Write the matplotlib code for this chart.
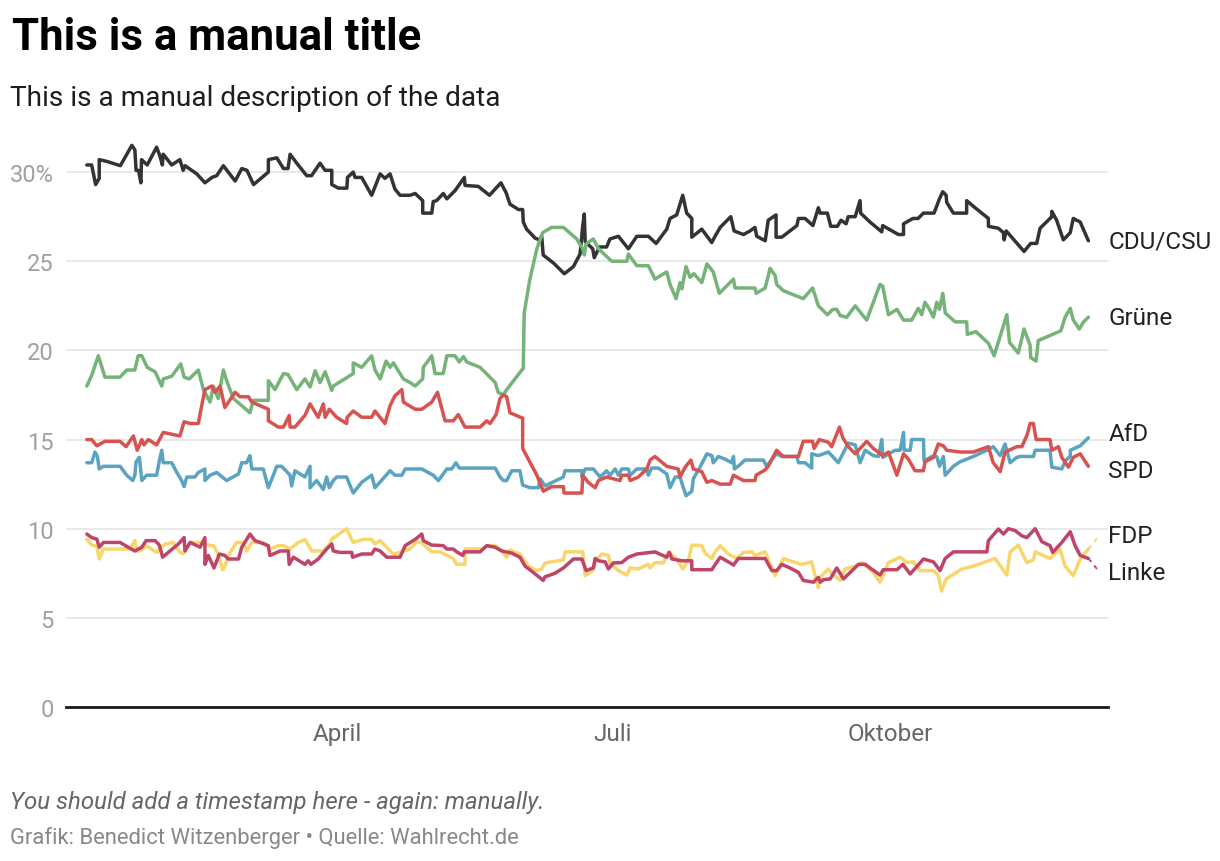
# -*- coding: utf-8 -*-

import matplotlib
matplotlib.use("Agg")
import matplotlib.pyplot as plt
import numpy as np
import pandas as pd

# plotting parameters
plt.rcParams["font.family"] = ["Roboto", "DejaVu Sans"]
plt.rcParams["figure.dpi"] = 100

START = pd.Timestamp("2019-01-01")

# poll data: days since 1 Jan 2019, share in percent
cdu_days = [6.9, 8.5, 9.8, 11, 11, 13.5, 18, 21.8, 22.8, 23.2, 24, 24.8, 25, 26.9, 30, 31.1, 31.9,
            32.2, 35, 37.7, 38.8, 39.4, 43.3, 46, 48.3, 49.9, 52.1, 56, 58.2, 59.9, 62.1, 67, 67,
            69.8, 72, 73.5, 74.2, 76.4, 79.7, 81.3, 84.1, 85.8, 88, 88, 90.2, 93, 93.2, 95.1, 95.7,
            97.9, 101.2, 104, 105.6, 107.3, 108.9, 110.6, 113.9, 115.6, 118.1, 118.1, 121.1, 121.6,
            122.7, 123.8, 124.9, 126.1, 128.8, 131.9, 132.1, 136.5, 140.2, 144, 145.7, 147, 149.8,
            151.2, 151.4, 152.5, 155.3, 156.7, 157.5, 158, 161.4, 165, 168, 170.2, 171.1, 171.6,
            171.9, 174.4, 174.9, 176.6, 179, 180.1, 182.9, 186.2, 189, 192.8, 195.4, 198.9, 200,
            202.2, 204.2, 205.5, 207.2, 207.2, 210.5, 213.8, 214.9, 216.6, 220.1, 221.2, 224.3,
            226.5, 228.1, 228.7, 231.5, 232.5, 235.1, 235.1, 237, 242, 242.5, 244.7, 247.3, 249.1,
            249.7, 252.1, 253.2, 255.4, 256.6, 258.3, 259, 261.3, 262.9, 263.1, 266.2, 270.1, 270.4,
            275.6, 277.3, 277.3, 280.4, 282.1, 283.9, 287.4, 289.2, 290.3, 291.4, 291.6, 293.8,
            298.2, 298.2, 301, 305.4, 305.4, 308.7, 310.4, 310.6, 311.3, 313.1, 317.2, 319.4, 321.4,
            322.5, 326.4, 326.4, 328, 330.2, 332.5, 333.5, 335.8, 338.5]
cdu_vals = [30.4, 30.4, 29.3, 29.65, 30.7, 30.6, 30.36, 31.5, 31.25, 30.1, 30.1, 29.4, 30.7, 30.4,
            31.4, 30.9, 30.4, 31.0, 30.4, 30.7, 30.1, 30.36, 29.9, 29.4, 29.7, 29.8, 30.36, 29.5,
            30.2, 30.1, 29.3, 30.0, 30.7, 30.8, 30.2, 30.2, 31.0, 30.5, 29.8, 29.8, 30.5, 30.1,
            30.1, 29.3, 29.1, 29.1, 29.7, 30.0, 29.7, 29.7, 28.7, 29.9, 29.65, 29.9, 29.05, 28.7,
            28.7, 28.8, 28.4, 27.7, 27.7, 28.35, 28.4, 28.6, 28.8, 28.5, 28.96, 29.7, 29.25, 29.2,
            28.7, 29.4, 28.85, 28.2, 27.9, 27.9, 27.2, 26.8, 26.3, 26.2, 26.4, 25.35, 24.9, 24.3,
            24.7, 25.4, 27.0, 27.65, 26.1, 25.7, 25.2, 25.8, 25.8, 26.25, 26.4, 25.7, 26.4, 26.4,
            26.0, 26.8, 27.4, 27.6, 28.7, 27.7, 27.4, 26.35, 26.8, 26.05, 26.4, 26.9, 27.5, 26.7,
            26.5, 26.7, 26.9, 26.4, 26.15, 27.3, 27.6, 26.35, 26.35, 27.0, 27.4, 27.4, 27.0, 28.0,
            27.7, 27.7, 26.96, 26.96, 27.3, 27.1, 27.5, 27.5, 28.4, 27.7, 27.2, 26.65, 27.0, 26.5,
            26.5, 27.1, 27.4, 27.4, 27.7, 27.7, 28.5, 28.9, 28.7, 28.3, 27.7, 27.7, 28.4, 28.0,
            27.4, 26.96, 26.85, 26.6, 26.2, 26.7, 26.35, 25.55, 26.0, 26.0, 26.85, 27.5, 27.8, 27.3,
            26.2, 26.6, 27.4, 27.2, 26.15]

gruene_days = [6.9, 8.5, 10.7, 12.9, 17.9, 20.1, 22.8, 23.9, 25.1, 26.9, 29.5, 31.7, 32.2, 35,
               38, 39.1, 40.8, 43.8, 45.5, 47.7, 48.8, 50.4, 52.1, 53.2, 55.4, 58.2, 60.9, 62, 67,
               67, 69.2, 72, 73.5, 76.4, 79.1, 80.8, 82.5, 84.1, 85.8, 88, 88.5, 95.1, 95.1, 97.9,
               101.2, 102.3, 104, 106, 107.3, 108.4, 111.7, 113.9, 115.6, 118.1, 118.3, 121.1,
               122.2, 124.9, 126.1, 128.8, 130.2, 131.6, 132.7, 137.1, 142.1, 143.1, 144.8, 145.9,
               151.4, 151.7, 153.6, 155.9, 157.8, 160.8, 164.7, 169.1, 171.1, 171.6, 172.2, 174.6,
               176.3, 180.7, 185.7, 186.2, 189, 192.8, 195, 198.9, 200, 202, 203.3, 203.9, 205.3,
               206.6, 207.9, 210.5, 212.2, 214.3, 216.3, 221, 221.5, 226.5, 228.1, 228.5, 231.5,
               233.1, 234.8, 235.3, 237.5, 244.1, 247.2, 249.1, 252.1, 253.9, 255.2, 256.3, 258.5,
               261.3, 265.1, 269.5, 270.4, 272.3, 275.1, 277.3, 280, 282.2, 283.3, 284.4, 285.9,
               287.2, 288.3, 289.2, 290.3, 291.1, 294.4, 298.2, 298.4, 301.3, 305.4, 307.3, 311.5,
               312.4, 315.3, 317.2, 319.2, 319.4, 321.2, 321.9, 325.3, 329.4, 330.8, 332.5, 333.5,
               335.5, 336.9, 338.5]
gruene_vals = [18.0, 18.6, 19.7, 18.5, 18.5, 18.9, 18.9, 19.7, 19.7, 19.05, 18.8, 18.0, 18.4,
               18.55, 19.24, 18.5, 18.4, 18.9, 17.8, 17.1, 18.0, 17.3, 18.9, 18.3, 17.3, 16.9, 16.5,
               17.2, 17.2, 18.3, 17.8, 18.7, 18.65, 17.8, 18.4, 17.95, 18.86, 18.2, 18.8, 17.75,
               18.0, 18.7, 19.3, 19.05, 19.7, 18.9, 18.4, 19.4, 19.05, 19.3, 18.4, 18.2, 18.0, 18.4,
               19.05, 19.7, 18.7, 18.7, 19.7, 19.7, 19.35, 19.65, 19.35, 19.05, 18.2, 17.65, 17.5,
               17.8, 19.0, 22.1, 24.0, 25.7, 26.6, 26.9, 26.9, 26.25, 25.7, 25.35, 25.97, 26.25,
               25.7, 25.0, 25.0, 25.4, 24.75, 24.75, 24.0, 24.4, 23.7, 22.9, 23.8, 23.45, 24.7,
               24.1, 24.3, 23.8, 24.85, 24.4, 23.2, 24.0, 23.5, 23.5, 23.5, 23.2, 23.5, 24.6, 24.2,
               23.7, 23.35, 22.9, 23.5, 22.5, 22.0, 22.3, 22.3, 21.96, 21.86, 22.5, 21.7, 23.7,
               23.6, 22.0, 22.3, 21.7, 21.7, 22.36, 22.0, 22.7, 22.3, 21.86, 22.7, 22.3, 23.2, 22.1,
               21.6, 21.6, 20.9, 21.05, 20.4, 19.7, 22.0, 20.45, 19.85, 21.2, 20.3, 19.6, 19.4,
               20.55, 20.8, 21.1, 21.86, 22.36, 21.7, 21.2, 21.6, 21.86]

spd_days = [6.9, 8.5, 10.2, 12.9, 17.9, 19.9, 22.3, 23.6, 25.1, 25.8, 27.3, 30, 32.2, 37.7, 39.1,
            41.1, 43.8, 45.5, 46, 48.2, 49.3, 51, 52.6, 56, 57.6, 60.4, 61.5, 67, 67, 70.3, 72,
            73.9, 74.2, 75.8, 79.1, 80.8, 83.5, 85.2, 85.8, 87.2, 89.6, 92.9, 93.1, 95.1, 97.9,
            101.2, 102.3, 105.6, 107.3, 108.9, 111.2, 111.7, 115.6, 117.8, 121.1, 123, 125.5,
            128.2, 129.9, 132.1, 137.1, 139.3, 140.4, 142.4, 143.7, 144.8, 145.9, 147, 151.2,
            151.2, 155.9, 158, 160.8, 164.7, 164.9, 170.8, 171.1, 172.9, 175.2, 176.3, 179, 183.4,
            184, 186.2, 186.8, 189.5, 192.3, 193.4, 195, 198.9, 202.7, 203.3, 205, 206.9, 207.7,
            210.5, 212.2, 213.8, 216.6, 219.9, 221, 224.3, 228.1, 228.5, 231.5, 232.5, 235.3,
            237.5, 242.5, 244.1, 247.2, 247.7, 249.4, 252.4, 253.5, 256.1, 257.2, 259, 261.3,
            265.1, 267.3, 270.4, 272.3, 275.1, 277.3, 278.9, 281.1, 283.9, 284.4, 287.2, 288.8,
            290.5, 291.6, 296, 300.4, 305.4, 307, 309.3, 310.9, 314.8, 316.5, 318.3, 319.2, 320.3,
            321.2, 325.8, 326.4, 328.6, 329.7, 331.9, 333.5, 335.8, 338.5]
spd_vals = [15.0, 15.0, 14.65, 14.9, 14.9, 14.6, 15.2, 14.4, 15.0, 14.7, 15.0, 14.7, 15.4, 15.2,
            16.0, 15.9, 15.9, 17.4, 17.8, 18.0, 17.65, 18.0, 16.8, 17.65, 17.4, 17.4, 17.1, 16.7,
            16.05, 15.7, 15.7, 16.35, 15.7, 15.7, 16.35, 17.0, 16.25, 17.0, 16.25, 16.7, 16.25,
            15.9, 16.25, 16.6, 16.25, 16.25, 16.6, 15.9, 16.9, 17.45, 17.8, 17.1, 16.7, 16.7, 17.1,
            17.65, 16.05, 16.05, 16.4, 15.7, 15.7, 16.05, 15.9, 16.4, 17.3, 17.5, 17.4, 16.5,
            16.2, 14.5, 13.0, 12.1, 12.36, 12.36, 12.0, 12.0, 13.0, 12.6, 12.3, 12.7, 12.9, 12.7,
            13.0, 13.0, 12.7, 12.9, 13.35, 13.85, 14.05, 13.5, 13.35, 12.9, 13.45, 13.85, 13.35,
            13.2, 12.6, 12.7, 12.5, 12.5, 13.0, 12.7, 12.7, 13.0, 13.3, 13.5, 14.4, 14.05, 14.05,
            14.9, 14.9, 14.5, 15.0, 14.85, 14.6, 15.7, 15.1, 14.6, 14.2, 14.9, 14.5, 14.1, 14.3,
            13.0, 14.2, 13.9, 13.25, 13.25, 13.75, 14.0, 14.75, 14.65, 14.4, 14.3, 14.3, 14.6,
            13.7, 13.2, 14.3, 14.6, 14.6, 15.3, 15.9, 15.9, 15.0, 15.0, 14.4, 14.6, 14.0, 13.45,
            14.0, 14.2, 13.5]

afd_days = [6.9, 8.5, 9.6, 10.4, 11, 12.4, 17.9, 20.1, 22.1, 22.8, 23.2, 24.3, 25.1, 26.7, 30,
            30.9, 31.7, 32.2, 35, 36.7, 38.3, 39.1, 40, 42.7, 43.8, 46, 46, 47.7, 49.9, 53.2, 57.1,
            58.2, 59.8, 60.9, 61.5, 65.3, 67, 69.8, 71.4, 74.2, 74.7, 75.8, 79.1, 80.8, 80.8, 83,
            85.2, 86.3, 87.2, 88.5, 89.6, 92.9, 95.1, 97.9, 101.2, 102.3, 107.3, 108.9, 111.2,
            112.3, 117.8, 121.6, 123.3, 126.1, 127.7, 129.1, 130.2, 142.1, 143.7, 144.8, 145.9,
            147.6, 150.3, 151.2, 153.6, 156.4, 157, 158.6, 164.7, 165.2, 170.8, 170.8, 171.9,
            174.6, 176.8, 179, 180.1, 181.8, 182.9, 184, 186.2, 186.8, 189, 192.3, 192.8, 193.9,
            196.1, 198.9, 200, 201.7, 203.3, 204.2, 205.3, 207.2, 207.7, 209.9, 212.2, 213.8,
            214.3, 216, 218.2, 220.4, 221, 221.3, 223.2, 224.8, 230.9, 232, 234.2, 235.3, 237,
            242, 242.5, 244.7, 246.9, 246.9, 249.1, 252.4, 254.1, 255.7, 259, 261.3, 262.9, 264.6,
            267.3, 269, 270.1, 270.4, 274.5, 276.2, 277.3, 277.5, 279.5, 280, 283.9, 284.1, 286.7,
            288.3, 289.2, 290.5, 291.1, 293.8, 296, 300.4, 304.9, 307, 309.3, 310.9, 312.6, 314.8,
            315.9, 320.3, 320.9, 325.8, 326.4, 329.7, 330.8, 332.5, 332.5, 335.8, 338.5]
afd_vals = [13.7, 13.7, 14.3, 14.05, 13.35, 13.5, 13.5, 13.0, 12.7, 13.0, 13.75, 14.0, 12.7, 13.0,
            13.0, 13.8, 14.4, 13.7, 13.7, 13.15, 12.7, 12.36, 12.9, 12.9, 13.15, 13.35, 12.7, 13.0,
            13.15, 12.7, 13.07, 13.7, 13.7, 14.1, 13.35, 13.35, 12.3, 13.5, 13.5, 13.0, 12.4,
            13.25, 12.9, 13.5, 12.3, 12.7, 12.2, 12.9, 12.3, 12.7, 12.9, 12.9, 12.0, 12.6, 13.0,
            12.3, 13.25, 13.0, 13.0, 13.35, 13.35, 13.0, 12.7, 13.35, 13.35, 13.7, 13.4, 13.4,
            12.9, 12.7, 12.7, 13.25, 13.25, 12.45, 12.3, 12.3, 12.8, 12.4, 12.9, 13.25, 13.25,
            12.9, 13.35, 13.35, 12.9, 13.25, 13.0, 13.35, 13.0, 13.35, 13.35, 13.0, 13.35, 13.35,
            13.0, 13.4, 13.4, 13.07, 12.3, 12.9, 12.9, 12.4, 11.85, 12.1, 12.8, 13.45, 14.2, 14.1,
            13.7, 14.05, 13.9, 13.7, 14.05, 13.35, 13.6, 13.85, 13.85, 13.5, 14.0, 14.2, 14.05,
            14.05, 13.7, 13.7, 13.4, 14.2, 14.1, 14.3, 14.0, 13.7, 14.8, 14.7, 13.7, 14.4, 14.1,
            14.05, 15.0, 14.0, 14.4, 14.4, 15.4, 14.4, 14.4, 15.0, 15.0, 13.8, 14.05, 14.05, 13.5,
            14.05, 13.0, 13.5, 13.75, 14.05, 14.4, 14.6, 14.1, 14.75, 13.7, 14.0, 14.05, 14.05,
            14.4, 14.4, 13.45, 13.35, 13.8, 14.05, 14.4, 14.65, 15.1]

fdp_days = [6.9, 8.5, 10.2, 11, 12.4, 17.9, 21.2, 22.8, 23.4, 24.5, 26.7, 30, 32.8, 35.5, 37.7,
            38.8, 41.1, 45.5, 47.7, 48.8, 49.9, 51, 51.9, 52.6, 54.3, 56.5, 58.7, 59.8, 61.5, 65.3,
            67.5, 70.3, 72, 74.2, 76.9, 79.1, 81.4, 85.2, 87.4, 88, 92.9, 95.1, 98.4, 101.2, 102.3,
            104, 106.2, 108.4, 110.6, 113.9, 116.1, 117.8, 121.1, 123.8, 128.2, 129.3, 132.1,
            132.1, 137.6, 139.8, 142.1, 144.3, 145.9, 147, 150.3, 153.1, 155.9, 157.5, 158.6,
            160.8, 164.7, 165.2, 171.1, 171.9, 174.4, 175.7, 177.4, 179.6, 180.1, 182.9, 185.7,
            186.8, 189.5, 192.8, 193.4, 195, 197.8, 199.4, 202.2, 204.2, 206.1, 207.2, 210.5,
            211.6, 213.8, 214.9, 216.6, 219.3, 222.1, 224.3, 227.1, 228.1, 231.5, 233.7, 234.8,
            237.5, 239.7, 243.6, 246.9, 248, 249.1, 249.7, 252.4, 253.5, 256.3, 257.9, 261.3,
            263.5, 267.3, 269.5, 272.3, 276.2, 278.4, 280.6, 282.8, 287.2, 288.8, 289.9, 291.4,
            296.6, 300.4, 307.6, 311.5, 312.6, 315.3, 318.1, 320.3, 320.9, 325.8, 329.1, 330.8,
            333.5, 335.8, 338.5]
fdp_vals = [9.4, 9.1, 9.0, 8.3, 8.86, 8.86, 8.86, 9.33, 8.75, 8.75, 9.03, 8.67, 9.14, 9.23, 8.67,
            8.6, 9.23, 9.23, 9.05, 9.05, 8.75, 8.2, 7.7, 7.9, 8.67, 9.23, 9.23, 8.75, 9.23, 9.23,
            8.86, 9.05, 9.05, 8.86, 9.23, 9.4, 8.75, 8.75, 9.14, 9.42, 10.0, 9.23, 9.4, 9.4, 9.14,
            9.33, 8.96, 8.58, 8.67, 8.86, 9.27, 9.2, 8.7, 8.7, 8.33, 8.0, 8.0, 8.86, 8.86, 9.05,
            9.05, 8.75, 8.4, 8.8, 8.58, 7.9, 7.65, 7.74, 8.08, 8.14, 8.25, 8.7, 8.7, 7.37, 7.65,
            8.3, 8.58, 8.5, 8.08, 7.65, 7.4, 7.8, 7.74, 8.0, 7.8, 8.1, 8.08, 8.7, 8.3, 7.74, 8.25,
            9.08, 9.05, 8.63, 8.33, 8.7, 9.05, 8.58, 8.33, 8.67, 8.7, 8.5, 8.7, 7.8, 7.37, 8.33,
            8.2, 8.0, 8.14, 7.37, 6.7, 7.27, 7.74, 7.5, 7.1, 7.74, 7.9, 8.1, 7.55, 7.0, 8.1, 8.4,
            8.1, 8.14, 7.65, 7.65, 7.37, 6.5, 7.18, 7.74, 7.9, 8.33, 7.4, 8.7, 9.08, 8.1, 8.25,
            8.7, 8.33, 8.86, 7.9, 7.37, 8.3, 8.86]

linke_days = [6.9, 8.5, 10.2, 11, 12.4, 17.9, 20.6, 22.8, 25.1, 26.5, 29.5, 30.9, 32, 34.4, 37.2,
              39.1, 39.4, 41.1, 43.3, 44.4, 46, 46, 47.1, 49, 50.8, 52.6, 53.7, 57.1, 58.2, 60.9,
              62.6, 67, 67.5, 70.9, 73.6, 73.9, 75.3, 79.1, 80.2, 81.1, 83.5, 86.3, 88, 88.5,
              90.7, 94.6, 94.9, 97.9, 101.2, 102.3, 104, 106.2, 110.6, 112.3, 115.6, 117.8, 118.3,
              121.1, 124.9, 126.1, 128.2, 129.4, 131.4, 131.8, 137.1, 139.3, 142.1, 144.3, 147.6,
              150.3, 152, 154.7, 158, 158.6, 161.9, 164.7, 168, 170.8, 172.2, 174.6, 175.2, 176.3,
              178.5, 179.6, 181.2, 184, 186.2, 189, 195, 198.9, 199.8, 200.6, 203.9, 207.2, 207.2,
              213.8, 216.6, 219.9, 221, 222.6, 231.5, 233.7, 235.3, 237, 239.7, 242.5, 244.1,
              247.5, 249.1, 249.7, 250.8, 253, 255.2, 257.4, 262.4, 264.6, 269.5, 270.6, 275.1,
              277.1, 279.5, 283.9, 287.2, 289.4, 291.1, 293.8, 304.9, 305.4, 308.7, 310.4, 312,
              314.2, 316.5, 318.1, 320.9, 323.1, 325.8, 326.7, 329.7, 332.5, 334.1, 335.8, 338.5]
linke_vals = [9.7, 9.5, 9.42, 8.96, 9.23, 9.23, 8.96, 8.75, 8.96, 9.33, 9.33, 9.08, 8.4, 8.75,
              9.14, 9.5, 8.75, 9.23, 9.05, 8.96, 9.5, 8.0, 8.5, 7.8, 8.58, 8.5, 8.3, 8.3, 8.96,
              9.7, 9.33, 9.05, 8.5, 8.75, 8.75, 8.0, 8.4, 8.0, 8.2, 8.0, 8.3, 8.86, 9.14, 8.75,
              8.67, 8.67, 8.4, 8.58, 8.58, 8.86, 8.75, 8.4, 8.4, 9.05, 9.4, 9.7, 9.33, 9.08, 9.05,
              8.86, 8.86, 8.7, 8.5, 8.7, 8.7, 9.05, 8.96, 8.75, 8.63, 8.4, 7.9, 7.55, 7.1, 7.3,
              7.5, 7.8, 8.3, 8.3, 7.65, 7.8, 8.33, 8.2, 8.14, 7.74, 8.08, 8.1, 8.4, 8.58, 8.7,
              8.4, 8.67, 8.3, 8.2, 8.2, 7.7, 7.7, 8.4, 8.08, 7.96, 8.33, 8.33, 7.65, 7.65, 8.0,
              7.8, 7.55, 7.1, 7.0, 7.27, 7.0, 7.14, 7.18, 7.8, 7.18, 8.0, 8.0, 7.4, 7.7, 7.7, 8.0,
              7.46, 8.3, 8.14, 7.65, 8.33, 8.7, 8.7, 9.33, 9.98, 9.7, 10.0, 9.9, 9.6, 9.5, 10.0,
              9.27, 9.05, 8.67, 9.23, 9.83, 9.05, 8.5, 8.33]

parties = ["CDU/CSU", "Grüne", "AfD", "SPD", "FDP", "Linke"]
series = {
    "CDU/CSU": (cdu_days, cdu_vals),
    "Grüne": (gruene_days, gruene_vals),
    "AfD": (afd_days, afd_vals),
    "SPD": (spd_days, spd_vals),
    "FDP": (fdp_days, fdp_vals),
    "Linke": (linke_days, linke_vals),
}
colors = {
    "CDU/CSU": "#333333",
    "Grüne": "#75b378",
    "AfD": "#5aa3c1",
    "SPD": "#d8524f",
    "FDP": "#f8d66b",
    "Linke": "#bf4467",
}

y_ticks = [0, 5, 10, 15, 20, 25, 30]
month_ticks = ["2019-04-01", "2019-07-01", "2019-10-01"]
month_labels = ["April", "Juli", "Oktober"]


def to_dates(days):
    return START + pd.to_timedelta(np.asarray(days, dtype=float), unit="D")


def spread_labels(values, gap):
    # push label positions apart so they do not overlap
    order = np.argsort(values)[::-1]
    pos = np.array(values, dtype=float)
    groups = [[i] for i in order]
    changed = True
    while changed:
        changed = False
        for k in range(len(groups) - 1):
            a, b = groups[k], groups[k + 1]
            if pos[a[-1]] - pos[b[0]] < gap - 1e-9:
                merged = a + b
                centre = np.mean([values[i] for i in merged])
                n = len(merged)
                for j, idx in enumerate(merged):
                    pos[idx] = centre + gap * ((n - 1) / 2 - j)
                groups[k:k + 2] = [merged]
                changed = True
                break
    return pos


fig = plt.figure(figsize=(12.2, 8.62))
ax = fig.add_axes([66 / 1220, 1 - 708 / 862, 1042 / 1220, 32 * 17.83 / 862])

ax.set_xlim(START, START + pd.Timedelta(days=345))
ax.set_ylim(0, 32)

for name in parties:
    days, vals = series[name]
    ax.plot(to_dates(days), vals, color=colors[name], lw=2.5,
            solid_joinstyle="round", solid_capstyle="round", zorder=3)

# labels at the line ends
end_vals = [series[p][1][-1] for p in parties]
label_pos = spread_labels(end_vals, 2.1)
for name, end, lab in zip(parties, end_vals, label_pos):
    last_day = series[name][0][-1]
    if abs(lab - end) > 0.3:
        ax.plot(to_dates([last_day, last_day + 3.8]), [end, lab], color=colors[name],
                lw=1.3, ls=(0, (2.5, 2.5)), zorder=3, clip_on=False)
    ax.text(START + pd.Timedelta(days=345.1), lab, name, fontsize=17.5, color="#222222",
            va="center", ha="left")

# axes styling
for spine in ax.spines.values():
    spine.set_visible(False)
ax.set_yticks(y_ticks)
ax.set_yticklabels([str(t) if t != 30 else "30%" for t in y_ticks])
ax.tick_params(axis="y", length=0, pad=9, labelsize=17, labelcolor="#a0a0a0")
ax.grid(axis="y", color="#e3e3e3", lw=1.1, zorder=0)
ax.axhline(0, color="#1a1a1a", lw=2.0, zorder=4, clip_on=False)

ax.set_xticks(pd.to_datetime(month_ticks))
ax.set_xticklabels(month_labels)
ax.tick_params(axis="x", length=0, pad=11, labelsize=17.5, labelcolor="#666666")

# header and footer
fig.text(12 / 1220, 1 - 50 / 862, "This is a manual title", fontsize=31.5,
         fontweight="bold", color="#000000", va="baseline", ha="left")
fig.text(10 / 1220, 1 - 106 / 862, "This is a manual description of the data",
         fontsize=20.2, color="#1d1d1d", va="baseline", ha="left")
fig.text(10 / 1220, 1 - 809 / 862, "You should add a timestamp here - again: manually.",
         fontsize=17.3, style="italic", color="#666666", va="baseline", ha="left")
fig.text(10 / 1220, 1 - 844 / 862, "Grafik: Benedict Witzenberger \u2022 Quelle: Wahlrecht.de",
         fontsize=15.8, color="#888888", va="baseline", ha="left")

fig.savefig("out.png", dpi=100)
